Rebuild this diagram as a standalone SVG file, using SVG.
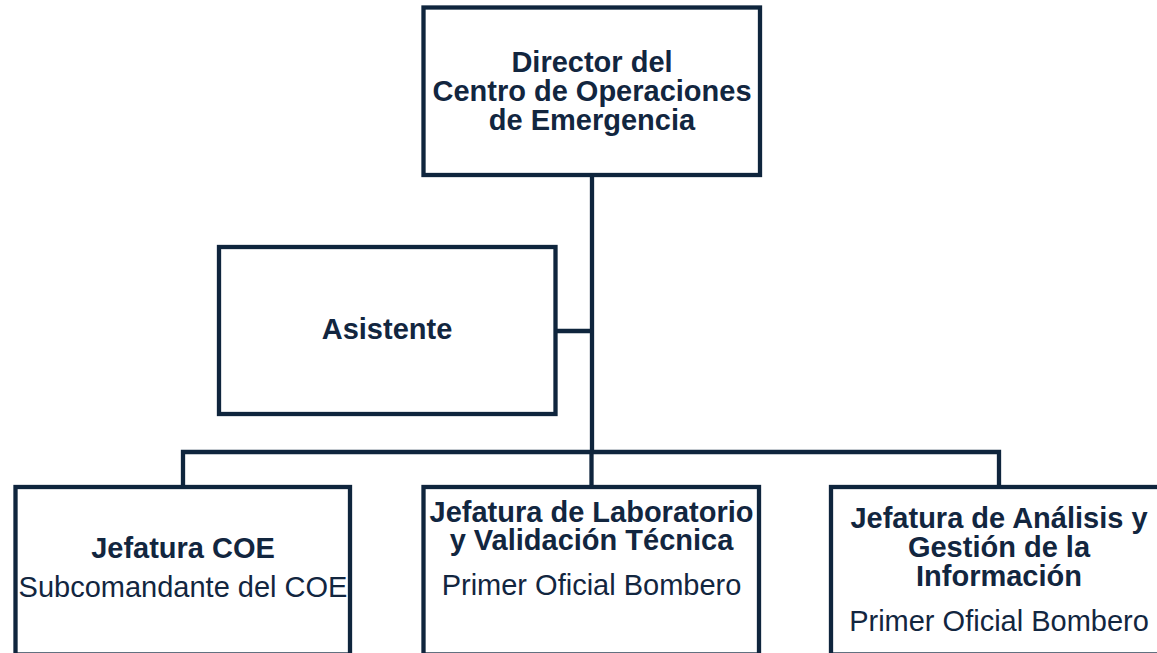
<svg xmlns="http://www.w3.org/2000/svg" width="1157" height="653" viewBox="0 0 1157 653">
<style>
.box{fill:#ffffff;stroke:#0f253d;stroke-width:4.3}
.ln{fill:none;stroke:#0f253d;stroke-width:4.3}
text{font-family:"Liberation Sans",Arial,sans-serif;font-size:29px;fill:#12263f;text-anchor:middle}
.b{font-weight:bold}
</style>
<rect width="1157" height="653" fill="#ffffff"/>
<g id="connectors">
<path class="ln" d="M592 175 V452"/>
<path class="ln" d="M555.5 331 H592"/>
<path class="ln" d="M183 487 V452 H999 V487"/>
<path class="ln" d="M591.5 452 V487"/>
</g>
<g id="director">
<rect class="box" x="423.5" y="7.5" width="336.5" height="167.5"/>
<text class="b" x="592" y="72">Director del<tspan x="592" y="101">Centro de Operaciones</tspan><tspan x="592" y="130">de Emergencia</tspan></text>
</g>
<g id="asistente">
<rect class="box" x="219" y="247" width="336.5" height="167"/>
<text class="b" x="387" y="339">Asistente</text>
</g>
<g id="jefatura-coe">
<rect class="box" x="15.5" y="487" width="334.5" height="167.5"/>
<text x="183" y="558"><tspan class="b">Jefatura COE</tspan><tspan x="183" y="597">Subcomandante del COE</tspan></text>
</g>
<g id="jefatura-laboratorio">
<rect class="box" x="423.5" y="487" width="335.5" height="167.5"/>
<text x="591.5" y="522"><tspan class="b">Jefatura de Laboratorio</tspan><tspan class="b" x="591.5" y="550">y Validación Técnica</tspan><tspan x="591.5" y="595">Primer Oficial Bombero</tspan></text>
</g>
<g id="jefatura-analisis">
<rect class="box" x="831" y="487" width="336" height="167.5"/>
<text x="999" y="528"><tspan class="b">Jefatura de Análisis y</tspan><tspan class="b" x="999" y="557">Gestión de la</tspan><tspan class="b" x="999" y="586">Información</tspan><tspan x="999" y="631">Primer Oficial Bombero</tspan></text>
</g>
</svg>
